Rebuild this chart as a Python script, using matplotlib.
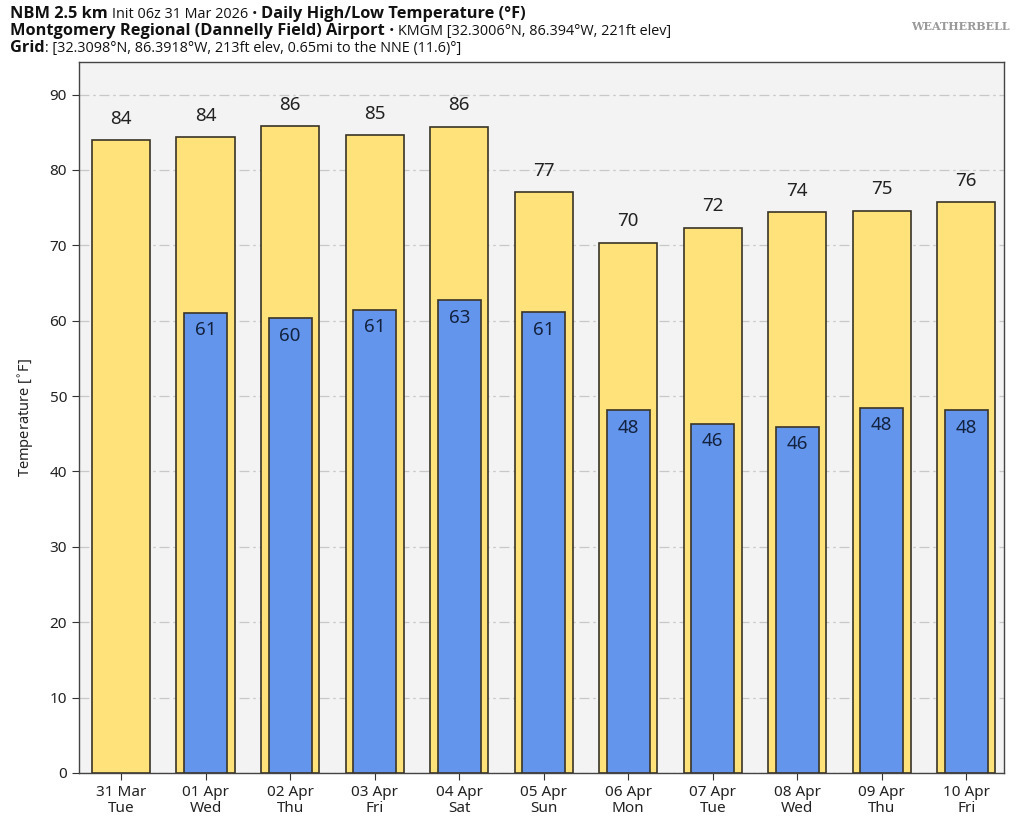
import matplotlib
matplotlib.use("Agg")
import matplotlib.pyplot as plt
import numpy as np

plt.rcParams['font.family'] = ['Noto Sans', 'DejaVu Sans']

dates = ["31 Mar", "01 Apr", "02 Apr", "03 Apr", "04 Apr", "05 Apr",
         "06 Apr", "07 Apr", "08 Apr", "09 Apr", "10 Apr"]
weekdays = ["Tue", "Wed", "Thu", "Fri", "Sat", "Sun",
            "Mon", "Tue", "Wed", "Thu", "Fri"]
highs = [83.9, 84.3, 85.8, 84.6, 85.7, 77.05, 70.3, 72.3, 74.4, 74.6, 75.7]
lows = [None, 61.0, 60.3, 61.4, 62.7, 61.1, 48.1, 46.3, 45.9, 48.4, 48.1]

fig = plt.figure(figsize=(10.24, 8.17), dpi=100)
ax = fig.add_axes([0.077, 0.054, 0.903, 0.870])
ax.set_facecolor('#f3f3f3')

x = np.arange(len(dates))
edge = '#3a3428'
ax.bar(x, highs, width=0.69, color='#ffe27a', edgecolor=edge, linewidth=1.2, zorder=3)
lx = [i for i, v in enumerate(lows) if v is not None]
lv = [v for v in lows if v is not None]
ax.bar(lx, lv, width=0.51, color='#6495ed', edgecolor=edge, linewidth=1.2, zorder=4)

for i, v in enumerate(highs):
    ax.annotate(f"{int(round(v + 1e-9))}", (i, v), xytext=(0, 9), textcoords='offset points',
                ha='center', va='bottom', fontsize=13.5, color='#222222', zorder=5)
for i, v in zip(lx, lv):
    ax.annotate(f"{int(round(v))}", (i, v), xytext=(0, -6), textcoords='offset points',
                ha='center', va='top', fontsize=13.5, color='#13233f', zorder=5)

ax.set_xlim(-0.5, 10.44)
ax.set_ylim(0, 94.3)
ax.set_yticks(np.arange(0, 91, 10))
ax.set_xticks(x)
ax.set_xticklabels([f"{d}\n{w}" for d, w in zip(dates, weekdays)], fontsize=11, color='#222222',
                   linespacing=1.1)
ax.tick_params(axis='y', labelsize=11, labelcolor='#222222', length=5, color='#333333')
ax.tick_params(axis='x', length=5, color='#333333')
ax.yaxis.grid(True, color='#c8c8c8', linestyle=(0, (8, 3, 2, 3)), linewidth=0.9, zorder=0)
ax.set_axisbelow(True)
ax.set_ylabel("Temperature [$^{\\circ}$F]", fontsize=10.5, color='#222222', labelpad=10)
for s in ax.spines.values():
    s.set_color('#444444')
    s.set_linewidth(1.0)

# Header text built from pieces
renderer = fig.canvas.get_renderer()
def line(y, parts):
    xpos = 10 / 1024
    for txt, weight in parts:
        size = 11.8 if weight == 'bold' else 10.4
        t = fig.text(xpos, y, txt, fontsize=size, fontweight=weight, color='#111111',
                     ha='left', va='baseline', family=['Open Sans', 'DejaVu Sans'])
        bb = t.get_window_extent(renderer=renderer)
        xpos += bb.width / 1024

line(1 - 18 / 817, [("NBM 2.5 km ", 'bold'), ("Init 06z 31 Mar 2026 ", 'normal'),
                    ("\u2022 ", 'normal'), ("Daily High/Low Temperature (\u00b0F)", 'bold')])
line(1 - 35 / 817, [("Montgomery Regional (Dannelly Field) Airport ", 'bold'), ("\u2022 ", 'normal'),
                    ("KMGM [32.3006\u00b0N, 86.394\u00b0W, 221ft elev]", 'normal')])
line(1 - 52 / 817, [("Grid", 'bold'), (": [32.3098\u00b0N, 86.3918\u00b0W, 213ft elev, 0.65mi to the NNE (11.6)\u00b0]", 'normal')])

fig.text(960 / 1024, 1 - 27 / 817, "WEATHERBELL", fontsize=8, color='#9a9a9a', ha='center',
         va='center', fontweight='bold', family='DejaVu Serif')

fig.savefig("out.png", dpi=100)
